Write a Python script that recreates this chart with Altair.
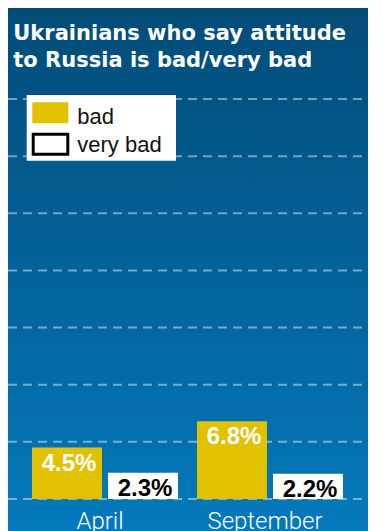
import altair as alt
import pandas as pd

# ---- data ----
months = ["April", "September"]
series = ["bad", "very bad"]
bad = [4.5, 6.8]
very_bad = [2.3, 2.2]
grid_values = [0, 5, 10, 15, 20, 25, 30, 35]
title_lines = ["Ukrainians who say attitude", "to Russia is bad/very bad"]

rows = []
for m, b, vb in zip(months, bad, very_bad):
    rows.append({"month": m, "series": "bad", "value": b, "label": f"{b}%"})
    rows.append({"month": m, "series": "very bad", "value": vb, "label": f"{vb}%"})
df = pd.DataFrame(rows)
grid_df = pd.DataFrame({"value": grid_values})
month_df = pd.DataFrame({"month": months})
one = pd.DataFrame({"a": [0]})

# ---- layout ----
W, H = 360, 523
zero_px = 491
px_per = 400 / 35
y_domain = [(zero_px - H) / px_per, zero_px / px_per]

yscale = alt.Scale(domain=y_domain, nice=False, zero=False)
xscale = alt.Scale(domain=months, range=[24, 335], paddingInner=0.115, paddingOuter=0)
xoffscale = alt.Scale(domain=series, paddingInner=0.079, paddingOuter=0)

bg = alt.Chart(one).mark_rect(
    color=alt.LinearGradient(
        gradient="linear",
        stops=[alt.GradientStop(color="#024c79", offset=0),
               alt.GradientStop(color="#0479bb", offset=1)],
        x1=0, x2=0, y1=0, y2=1,
    )
).encode(x=alt.value(0), x2=alt.value(W), y=alt.value(0), y2=alt.value(H))

grid = alt.Chart(grid_df).mark_rule(
    color="white", opacity=0.45, strokeWidth=2, strokeDash=[9, 6]
).encode(
    y=alt.Y("value:Q", scale=yscale, axis=None),
    x=alt.value(0), x2=alt.value(W),
)

enc = dict(
    x=alt.X("month:N", scale=xscale, axis=None, sort=months),
    xOffset=alt.XOffset("series:N", scale=xoffscale, sort=series),
    y=alt.Y("value:Q", scale=yscale, axis=None),
    y2=alt.datum(0),
)

shadow1 = alt.Chart(df).mark_bar(color="#00182c", opacity=0.22, xOffset=6, yOffset=5).encode(**enc)
shadow2 = alt.Chart(df).mark_bar(color="#00182c", opacity=0.3, xOffset=3, yOffset=3).encode(**enc)

bars = alt.Chart(df).mark_bar().encode(
    **enc,
    color=alt.Color("series:N", scale=alt.Scale(domain=series, range=["#e1c100", "#ffffff"]), legend=None),
)

labels = alt.Chart(df).mark_text(
    font="Liberation Sans", fontWeight="bold", fontSize=24, baseline="alphabetic", dy=23, dx=2
).encode(
    x=alt.X("month:N", scale=xscale, axis=None, sort=months),
    xOffset=alt.XOffset("series:N", scale=xoffscale, sort=series),
    y=alt.Y("value:Q", scale=yscale, axis=None),
    text="label:N",
    color=alt.Color("series:N", scale=alt.Scale(domain=series, range=["#ffffff", "#000000"]), legend=None),
)

month_labels = alt.Chart(month_df).mark_text(
    font="Roboto", fontWeight=300, fontSize=24, color="white", baseline="alphabetic", dx=-5
).encode(
    x=alt.X("month:N", scale=xscale, axis=None, sort=months),
    y=alt.value(521),
    text="month:N",
)

title1 = alt.Chart(one).mark_text(
    text=title_lines[0], font="DejaVu Sans", fontWeight="bold", fontSize=21,
    color="white", align="left", baseline="alphabetic"
).encode(x=alt.value(5.3), y=alt.value(31.5))
title2 = alt.Chart(one).mark_text(
    text=title_lines[1], font="DejaVu Sans", fontWeight="bold", fontSize=21,
    color="white", align="left", baseline="alphabetic"
).encode(x=alt.value(5.3), y=alt.value(58.7))

leg_box = alt.Chart(one).mark_rect(color="white").encode(
    x=alt.value(18.7), x2=alt.value(168), y=alt.value(87), y2=alt.value(152.7))
leg_sw1 = alt.Chart(one).mark_rect(color="#e1c100").encode(
    x=alt.value(24.3), x2=alt.value(60.3), y=alt.value(94.3), y2=alt.value(115.3))
leg_sw2 = alt.Chart(one).mark_rect(fill="white", stroke="black", strokeWidth=3).encode(
    x=alt.value(25.2), x2=alt.value(59.8), y=alt.value(126.2), y2=alt.value(146.2))
leg_t1 = alt.Chart(one).mark_text(
    text=series[0], font="Liberation Sans", fontSize=22, color="#111111", align="left", baseline="alphabetic"
).encode(x=alt.value(69.3), y=alt.value(116.3))
leg_t2 = alt.Chart(one).mark_text(
    text=series[1], font="Liberation Sans", fontSize=22, color="#111111", align="left", baseline="alphabetic"
).encode(x=alt.value(69.3), y=alt.value(143.7))

chart = alt.layer(
    bg, grid, shadow1, shadow2, bars, labels, month_labels, title1, title2,
    leg_box, leg_sw1, leg_sw2, leg_t1, leg_t2
).resolve_scale(color="independent").properties(
    width=W, height=H, padding=0, autosize=alt.AutoSizeParams(type="none"),
    background="white",
).configure_view(stroke=None)

chart.save("out.html", embed_options={"renderer": "svg", "actions": False})
